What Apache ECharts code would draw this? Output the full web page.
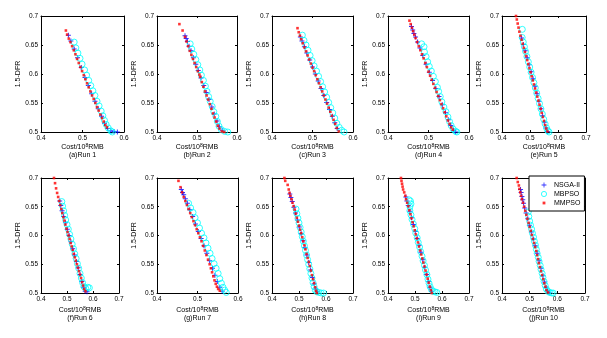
<!DOCTYPE html>
<html><head><meta charset="utf-8">
<script src="https://cdn.jsdelivr.net/npm/echarts@6/dist/echarts.min.js"></script>
<style>html,body{margin:0;padding:0;background:#fff}#chart{width:607px;height:338px}</style>
</head><body><div id="chart"></div>
<script>
// Pareto fronts (cost vs. 1.5-DFR) of three optimisers over ten independent runs
const runLabels = ['(a)Run 1','(b)Run 2','(c)Run 3','(d)Run 4','(e)Run 5','(f)Run 6','(g)Run 7','(h)Run 8','(i)Run 9','(j)Run 10'];
const costMax = [0.6,0.6,0.6,0.6,0.7,0.7,0.6,0.7,0.7,0.7];
const costMin = 0.4;
const dfrMin = 0.5, dfrMax = 0.7;
const seriesNames = ['NSGA-II','MBPSO','MMPSO'];

// ---- Run 1
const nsgaRun1 = [[0.466,0.667],[0.472,0.657],[0.480,0.643],[0.488,0.628],[0.497,0.611],[0.506,0.594],[0.514,0.580],[0.522,0.566],[0.530,0.553],[0.538,0.540],[0.546,0.527],[0.553,0.515],[0.560,0.506],[0.568,0.502],[0.576,0.501],[0.584,0.500]];
const mbpsoRun1 = [[0.480,0.655],[0.484,0.645],[0.489,0.636],[0.494,0.627],[0.499,0.617],[0.505,0.607],[0.510,0.598],[0.515,0.589],[0.520,0.580],[0.525,0.571],[0.530,0.563],[0.535,0.553],[0.540,0.545],[0.545,0.536],[0.549,0.528],[0.553,0.520],[0.557,0.513],[0.562,0.507],[0.568,0.502],[0.572,0.500]];
const mmpsoRun1 = [[0.460,0.675],[0.463,0.668],[0.467,0.661],[0.471,0.655],[0.475,0.648],[0.479,0.641],[0.483,0.634],[0.487,0.626],[0.491,0.619],[0.495,0.612],[0.499,0.605],[0.503,0.598],[0.507,0.591],[0.511,0.584],[0.515,0.577],[0.519,0.570],[0.523,0.563],[0.527,0.557],[0.531,0.550],[0.535,0.543],[0.539,0.537],[0.543,0.530],[0.547,0.524],[0.551,0.518],[0.555,0.512],[0.559,0.508]];
// ---- Run 2
const nsgaRun2 = [[0.470,0.666],[0.473,0.661],[0.476,0.656],[0.480,0.648],[0.485,0.640],[0.491,0.628],[0.497,0.617],[0.503,0.606],[0.510,0.593],[0.517,0.580],[0.523,0.568],[0.530,0.556],[0.537,0.543],[0.543,0.531],[0.550,0.519],[0.556,0.509],[0.563,0.503]];
const mbpsoRun2 = [[0.483,0.652],[0.487,0.643],[0.492,0.634],[0.497,0.625],[0.502,0.616],[0.507,0.607],[0.511,0.598],[0.516,0.589],[0.521,0.579],[0.525,0.570],[0.529,0.561],[0.533,0.553],[0.538,0.544],[0.542,0.535],[0.547,0.527],[0.551,0.518],[0.555,0.510],[0.561,0.504],[0.569,0.501],[0.577,0.500]];
const mmpsoRun2 = [[0.456,0.686],[0.464,0.675],[0.470,0.664],[0.474,0.656],[0.478,0.648],[0.482,0.640],[0.486,0.633],[0.490,0.626],[0.494,0.619],[0.498,0.612],[0.502,0.605],[0.506,0.599],[0.508,0.595],[0.512,0.586],[0.516,0.578],[0.520,0.570],[0.524,0.563],[0.528,0.556],[0.532,0.548],[0.536,0.540],[0.540,0.532],[0.544,0.525],[0.548,0.518],[0.552,0.511],[0.556,0.506],[0.562,0.501],[0.568,0.500]];
// ---- Run 3
const nsgaRun3 = [[0.470,0.664],[0.474,0.657],[0.480,0.647],[0.486,0.636],[0.493,0.624],[0.500,0.612],[0.507,0.600],[0.514,0.588],[0.521,0.575],[0.528,0.563],[0.535,0.551],[0.542,0.539],[0.549,0.527],[0.555,0.516],[0.561,0.506]];
const mbpsoRun3 = [[0.475,0.667],[0.479,0.658],[0.484,0.650],[0.489,0.641],[0.494,0.632],[0.499,0.623],[0.504,0.614],[0.510,0.605],[0.515,0.596],[0.520,0.587],[0.525,0.578],[0.530,0.569],[0.535,0.560],[0.540,0.551],[0.545,0.542],[0.550,0.533],[0.555,0.524],[0.560,0.515],[0.566,0.508],[0.572,0.503],[0.578,0.500]];
const mmpsoRun3 = [[0.463,0.679],[0.466,0.672],[0.469,0.666],[0.472,0.660],[0.476,0.653],[0.480,0.646],[0.484,0.639],[0.488,0.632],[0.492,0.625],[0.496,0.618],[0.500,0.611],[0.504,0.605],[0.508,0.598],[0.512,0.591],[0.516,0.584],[0.520,0.577],[0.524,0.570],[0.528,0.563],[0.532,0.556],[0.536,0.549],[0.540,0.542],[0.544,0.535],[0.548,0.528],[0.552,0.521],[0.556,0.514],[0.560,0.507],[0.565,0.501]];
// ---- Run 4
const nsgaRun4 = [[0.458,0.682],[0.461,0.676],[0.464,0.670],[0.468,0.664],[0.473,0.655],[0.479,0.645],[0.486,0.632],[0.494,0.617],[0.502,0.603],[0.510,0.589],[0.518,0.575],[0.526,0.561],[0.534,0.547],[0.542,0.533],[0.549,0.521],[0.555,0.511],[0.562,0.503],[0.567,0.500]];
const mbpsoRun4 = [[0.483,0.652],[0.489,0.647],[0.490,0.638],[0.494,0.630],[0.498,0.621],[0.502,0.613],[0.507,0.605],[0.512,0.596],[0.517,0.587],[0.522,0.577],[0.525,0.570],[0.529,0.561],[0.533,0.552],[0.538,0.543],[0.543,0.535],[0.548,0.526],[0.552,0.518],[0.556,0.511],[0.561,0.505],[0.567,0.501],[0.570,0.500]];
const mmpsoRun4 = [[0.453,0.692],[0.456,0.686],[0.459,0.680],[0.462,0.674],[0.465,0.668],[0.468,0.662],[0.472,0.655],[0.476,0.648],[0.480,0.641],[0.484,0.634],[0.488,0.627],[0.492,0.619],[0.496,0.612],[0.500,0.604],[0.504,0.597],[0.508,0.590],[0.512,0.583],[0.516,0.576],[0.520,0.569],[0.524,0.562],[0.528,0.555],[0.532,0.548],[0.536,0.541],[0.540,0.534],[0.544,0.527],[0.548,0.520],[0.552,0.514],[0.556,0.508],[0.560,0.504]];
// ---- Run 5
const nsgaRun5 = [[0.470,0.662],[0.476,0.651],[0.483,0.640],[0.490,0.628],[0.497,0.616],[0.504,0.604],[0.511,0.592],[0.518,0.579],[0.525,0.566],[0.532,0.553],[0.539,0.540],[0.545,0.528],[0.551,0.517],[0.557,0.507],[0.562,0.501]];
const mbpsoRun5 = [[0.4725,0.677],[0.472,0.663],[0.476,0.655],[0.480,0.647],[0.484,0.639],[0.489,0.630],[0.494,0.621],[0.499,0.612],[0.504,0.603],[0.509,0.594],[0.514,0.585],[0.519,0.576],[0.524,0.567],[0.529,0.558],[0.534,0.549],[0.539,0.540],[0.544,0.531],[0.549,0.522],[0.554,0.514],[0.559,0.507],[0.564,0.502],[0.568,0.500]];
const mmpsoRun5 = [[0.450,0.700],[0.453,0.694],[0.456,0.687],[0.459,0.680],[0.462,0.673],[0.466,0.666],[0.470,0.659],[0.474,0.652],[0.478,0.645],[0.482,0.638],[0.486,0.631],[0.490,0.624],[0.494,0.617],[0.498,0.610],[0.502,0.603],[0.506,0.596],[0.510,0.589],[0.514,0.582],[0.518,0.575],[0.522,0.568],[0.526,0.561],[0.530,0.554],[0.534,0.547],[0.538,0.540],[0.542,0.533],[0.546,0.526],[0.550,0.519],[0.554,0.512],[0.558,0.506],[0.562,0.501]];
// ---- Run 6
const nsgaRun6 = [[0.472,0.660],[0.476,0.652],[0.481,0.643],[0.487,0.633],[0.494,0.622],[0.501,0.611],[0.508,0.600],[0.515,0.589],[0.522,0.577],[0.529,0.566],[0.536,0.555],[0.543,0.544],[0.550,0.532],[0.557,0.520],[0.563,0.510],[0.570,0.503],[0.577,0.502]];
const mbpsoRun6 = [[0.480,0.659],[0.483,0.651],[0.487,0.643],[0.491,0.635],[0.495,0.627],[0.500,0.619],[0.505,0.611],[0.510,0.602],[0.515,0.594],[0.520,0.585],[0.525,0.577],[0.530,0.568],[0.535,0.560],[0.540,0.551],[0.545,0.543],[0.550,0.534],[0.555,0.526],[0.560,0.518],[0.565,0.511],[0.572,0.508],[0.580,0.510],[0.586,0.509]];
const mmpsoRun6 = [[0.450,0.700],[0.454,0.691],[0.458,0.682],[0.462,0.674],[0.466,0.667],[0.470,0.660],[0.474,0.653],[0.478,0.646],[0.482,0.639],[0.486,0.632],[0.490,0.626],[0.494,0.619],[0.498,0.612],[0.502,0.606],[0.506,0.600],[0.510,0.594],[0.514,0.587],[0.518,0.581],[0.522,0.575],[0.526,0.568],[0.530,0.562],[0.534,0.556],[0.538,0.550],[0.542,0.544],[0.546,0.538],[0.550,0.532],[0.554,0.526],[0.558,0.519],[0.562,0.513],[0.566,0.507],[0.571,0.503]];
// ---- Run 7
const nsgaRun7 = [[0.460,0.680],[0.463,0.675],[0.466,0.671],[0.470,0.664],[0.475,0.656],[0.481,0.645],[0.488,0.633],[0.495,0.620],[0.502,0.607],[0.509,0.595],[0.516,0.582],[0.523,0.569],[0.530,0.556],[0.537,0.543],[0.543,0.531],[0.549,0.520],[0.555,0.510],[0.561,0.503]];
const mbpsoRun7 = [[0.478,0.656],[0.483,0.648],[0.489,0.640],[0.494,0.631],[0.500,0.622],[0.505,0.613],[0.510,0.604],[0.516,0.596],[0.521,0.587],[0.526,0.578],[0.531,0.569],[0.536,0.560],[0.541,0.551],[0.546,0.543],[0.551,0.534],[0.555,0.525],[0.559,0.517],[0.563,0.510],[0.567,0.505],[0.571,0.501]];
const mmpsoRun7 = [[0.453,0.695],[0.458,0.684],[0.462,0.675],[0.466,0.667],[0.470,0.660],[0.474,0.653],[0.478,0.646],[0.482,0.639],[0.486,0.632],[0.490,0.625],[0.494,0.618],[0.498,0.611],[0.502,0.604],[0.506,0.597],[0.510,0.590],[0.514,0.582],[0.518,0.574],[0.522,0.566],[0.526,0.558],[0.530,0.550],[0.533,0.543],[0.536,0.536],[0.539,0.529],[0.542,0.522],[0.545,0.516],[0.548,0.511],[0.551,0.507],[0.555,0.504]];
// ---- Run 8
const nsgaRun8 = [[0.466,0.672],[0.470,0.666],[0.475,0.659],[0.481,0.649],[0.487,0.639],[0.494,0.627],[0.501,0.615],[0.508,0.603],[0.515,0.591],[0.522,0.579],[0.529,0.566],[0.536,0.553],[0.543,0.540],[0.550,0.527],[0.556,0.516],[0.562,0.507],[0.568,0.502]];
const mbpsoRun8 = [[0.489,0.646],[0.492,0.638],[0.496,0.630],[0.500,0.622],[0.504,0.614],[0.508,0.606],[0.512,0.598],[0.516,0.590],[0.520,0.582],[0.524,0.574],[0.528,0.566],[0.532,0.558],[0.536,0.550],[0.540,0.542],[0.544,0.534],[0.548,0.526],[0.552,0.518],[0.556,0.511],[0.560,0.505],[0.566,0.502],[0.574,0.501],[0.582,0.500],[0.591,0.500]];
const mmpsoRun8 = [[0.446,0.700],[0.449,0.695],[0.458,0.688],[0.462,0.680],[0.465,0.674],[0.468,0.669],[0.472,0.663],[0.476,0.657],[0.480,0.651],[0.484,0.645],[0.488,0.638],[0.492,0.631],[0.496,0.624],[0.500,0.617],[0.504,0.610],[0.508,0.604],[0.512,0.597],[0.516,0.590],[0.520,0.583],[0.524,0.576],[0.528,0.568],[0.532,0.561],[0.536,0.554],[0.540,0.547],[0.544,0.539],[0.548,0.531],[0.552,0.524],[0.556,0.517],[0.560,0.510],[0.563,0.504],[0.566,0.500]];
// ---- Run 9
const nsgaRun9 = [[0.466,0.667],[0.470,0.660],[0.475,0.652],[0.481,0.642],[0.487,0.631],[0.494,0.619],[0.501,0.607],[0.508,0.595],[0.515,0.583],[0.522,0.571],[0.529,0.558],[0.536,0.545],[0.543,0.532],[0.549,0.520],[0.555,0.510],[0.561,0.503]];
const mbpsoRun9 = [[0.478,0.662],[0.483,0.660],[0.485,0.655],[0.481,0.650],[0.481,0.643],[0.485,0.636],[0.489,0.628],[0.494,0.620],[0.499,0.612],[0.503,0.604],[0.508,0.596],[0.512,0.588],[0.517,0.580],[0.521,0.572],[0.526,0.564],[0.530,0.556],[0.535,0.548],[0.539,0.540],[0.544,0.532],[0.548,0.524],[0.552,0.517],[0.556,0.511],[0.561,0.506],[0.567,0.503],[0.574,0.502],[0.581,0.501]];
const mmpsoRun9 = [[0.448,0.700],[0.450,0.695],[0.452,0.690],[0.454,0.685],[0.456,0.680],[0.460,0.675],[0.464,0.669],[0.467,0.663],[0.471,0.657],[0.475,0.651],[0.479,0.644],[0.483,0.637],[0.487,0.630],[0.491,0.623],[0.495,0.616],[0.499,0.609],[0.503,0.602],[0.507,0.595],[0.511,0.588],[0.515,0.581],[0.519,0.574],[0.523,0.567],[0.527,0.560],[0.531,0.553],[0.535,0.546],[0.539,0.539],[0.543,0.532],[0.547,0.525],[0.551,0.518],[0.555,0.511],[0.559,0.505],[0.562,0.500]];
// ---- Run 10
const nsgaRun10 = [[0.467,0.680],[0.469,0.675],[0.472,0.668],[0.475,0.662],[0.478,0.656],[0.482,0.648],[0.487,0.639],[0.493,0.629],[0.499,0.618],[0.506,0.606],[0.513,0.594],[0.520,0.582],[0.527,0.569],[0.534,0.556],[0.541,0.543],[0.548,0.530],[0.554,0.519],[0.559,0.510],[0.564,0.504],[0.570,0.501]];
const mbpsoRun10 = [[0.495,0.641],[0.497,0.633],[0.500,0.625],[0.503,0.618],[0.507,0.611],[0.510,0.604],[0.514,0.597],[0.517,0.590],[0.521,0.583],[0.524,0.576],[0.527,0.569],[0.531,0.562],[0.534,0.555],[0.538,0.548],[0.541,0.541],[0.545,0.534],[0.548,0.527],[0.552,0.520],[0.556,0.513],[0.560,0.507],[0.566,0.503],[0.572,0.501],[0.579,0.500],[0.585,0.500]];
const mmpsoRun10 = [[0.453,0.700],[0.457,0.693],[0.461,0.687],[0.463,0.681],[0.466,0.675],[0.469,0.669],[0.472,0.663],[0.476,0.657],[0.480,0.650],[0.484,0.643],[0.488,0.636],[0.492,0.629],[0.496,0.622],[0.500,0.615],[0.504,0.608],[0.508,0.601],[0.512,0.594],[0.516,0.587],[0.520,0.580],[0.524,0.573],[0.527,0.566],[0.530,0.559],[0.533,0.552],[0.537,0.545],[0.541,0.538],[0.545,0.531],[0.549,0.524],[0.553,0.517],[0.557,0.511],[0.561,0.505],[0.566,0.501]];

const nsgaRuns = [nsgaRun1,nsgaRun2,nsgaRun3,nsgaRun4,nsgaRun5,nsgaRun6,nsgaRun7,nsgaRun8,nsgaRun9,nsgaRun10];
const mbpsoRuns = [mbpsoRun1,mbpsoRun2,mbpsoRun3,mbpsoRun4,mbpsoRun5,mbpsoRun6,mbpsoRun7,mbpsoRun8,mbpsoRun9,mbpsoRun10];
const mmpsoRuns = [mmpsoRun1,mmpsoRun2,mmpsoRun3,mmpsoRun4,mmpsoRun5,mmpsoRun6,mmpsoRun7,mmpsoRun8,mmpsoRun9,mmpsoRun10];

// panel boxes (pixels)
const panels = [
  {left:41, top:16, width:83, height:116},
  {left:157, top:16, width:80, height:116},
  {left:272, top:16, width:81, height:116},
  {left:388, top:16, width:81, height:116},
  {left:502, top:16, width:84, height:116},
  {left:41, top:178, width:78, height:115},
  {left:157, top:178, width:81, height:115},
  {left:272, top:178, width:81, height:115},
  {left:388, top:178, width:81, height:115},
  {left:502, top:178, width:83, height:115}
];

const FONT = '"Liberation Sans", Arial, Helvetica, sans-serif';
const PLUS = 'path://M4,0H6V4H10V6H6V10H4V6H0V4H4Z';
const SQUARE = 'path://M0,0H10V10H0Z';
// legend icons: same shapes, padded inside a 10x10 frame so they stay small
const FRAME = 'M0,0L0,0M10,10L10,10';
const PLUS_KEY = 'path://' + FRAME + 'M4.4,1.5H5.6V4.4H8.5V5.6H5.6V8.5H4.4V5.6H1.5V4.4H4.4Z';
const CIRCLE_KEY = 'path://' + FRAME + 'M1.3,5A3.7,3.7,0,1,1,8.7,5A3.7,3.7,0,1,1,1.3,5Z';
const SQUARE_KEY = 'path://' + FRAME + 'M3,3H7V7H3Z';
const BLUE = '#0000ff', CYAN = '#00ffff', RED = '#ff0000';

const grid = [], xAxis = [], yAxis = [], series = [];
const lineStyle = {color:'#000', width:1};
panels.forEach((p, i) => {
  grid.push({left:p.left, top:p.top, width:p.width, height:p.height, containLabel:false});
  const xCommon = {type:'value', gridIndex:i, min:costMin, max:costMax[i], interval:0.1,
    axisLine:{show:true, onZero:false, lineStyle}, splitLine:{show:false},
    axisTick:{show:true, inside:true, length:2, lineStyle}};
  xAxis.push(Object.assign({}, xCommon, {position:'bottom',
    axisLabel:{fontSize:6.5, color:'#000', margin:3, fontFamily:FONT},
    name:'{t|Cost/10}{s|8}{t|RMB}\n{t|' + runLabels[i] + '}',
    nameLocation:'middle', nameGap: i < 5 ? 11 : 13,
    nameTextStyle:{fontFamily:FONT, color:'#000', rich:{
      t:{fontSize:7, lineHeight:8, fontFamily:FONT, color:'#000'},
      s:{fontSize:5, verticalAlign:'top', fontFamily:FONT, color:'#000'}}}}));
  xAxis.push(Object.assign({}, xCommon, {position:'top', axisLabel:{show:false}}));
  const yCommon = {type:'value', gridIndex:i, min:dfrMin, max:dfrMax, interval:0.05,
    axisLine:{show:true, onZero:false, lineStyle}, splitLine:{show:false},
    axisTick:{show:true, inside:true, length:2, lineStyle}};
  yAxis.push(Object.assign({}, yCommon, {position:'left',
    axisLabel:{fontSize:6.5, color:'#000', margin:3, fontFamily:FONT},
    name:'1.5-DFR', nameLocation:'middle', nameGap:18,
    nameTextStyle:{fontSize:7, color:'#000', fontFamily:FONT}}));
  yAxis.push(Object.assign({}, yCommon, {position:'right', axisLabel:{show:false}}));

  const ax = {xAxisIndex:2*i, yAxisIndex:2*i};
  series.push(Object.assign({type:'scatter', name:seriesNames[0], data:nsgaRuns[i],
    symbol:PLUS, symbolSize:5, itemStyle:{color:BLUE}, silent:true}, ax));
  series.push(Object.assign({type:'scatter', name:seriesNames[1], data:mbpsoRuns[i],
    symbol:'circle', symbolSize:6,
    itemStyle:{color:'rgba(0,0,0,0)', borderColor:CYAN, borderWidth:1}, silent:true}, ax));
  series.push(Object.assign({type:'scatter', name:seriesNames[2], data:mmpsoRuns[i],
    symbol:SQUARE, symbolSize:2.6, itemStyle:{color:RED}, silent:true}, ax));
});

const chart = echarts.init(document.getElementById('chart'), null, {renderer:'canvas'});
chart.setOption({
  animation:false,
  backgroundColor:'#fff',
  grid, xAxis, yAxis, series,
  legend:{
    orient:'vertical', left:529, top:176,
    backgroundColor:'#fff', borderColor:'#000', borderWidth:1, borderRadius:0,
    padding:[5,4,4,11], itemGap:1, itemWidth:10, itemHeight:7,
    selectedMode:false,
    textStyle:{fontSize:7, color:'#000', fontFamily:FONT, lineHeight:8},
    data:[
      {name:seriesNames[0], icon:PLUS_KEY, itemStyle:{color:BLUE, borderWidth:0}},
      {name:seriesNames[1], icon:CIRCLE_KEY, itemStyle:{color:'rgba(0,0,0,0)', borderColor:CYAN, borderWidth:1}},
      {name:seriesNames[2], icon:SQUARE_KEY, itemStyle:{color:RED, borderWidth:0}}
    ]
  }
});
</script></body></html>
